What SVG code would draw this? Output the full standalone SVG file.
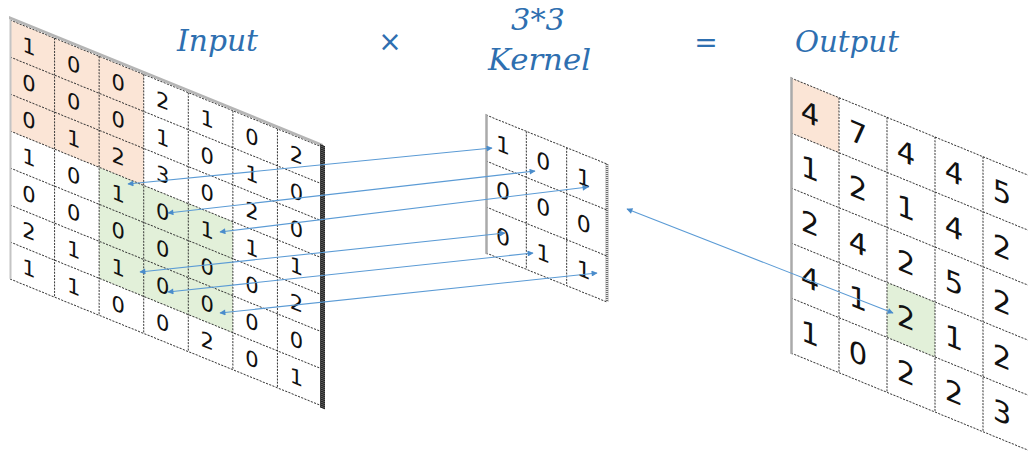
<svg xmlns="http://www.w3.org/2000/svg" width="1028" height="454" viewBox="0 0 1028 454">
<defs>
<marker id="ah" viewBox="0 0 10 10" refX="9" refY="5" markerWidth="8" markerHeight="6" markerUnits="userSpaceOnUse" orient="auto-start-reverse"><path d="M0,0 L10,5 L0,10 z" fill="#4a8ccb"/></marker>
</defs>
<style>
.t{font-family:"DejaVu Serif",serif;font-style:italic;fill:#2e6fb0;font-size:29px}
.op{font-family:"DejaVu Sans",sans-serif;fill:#2e6fb0;font-size:28px;text-anchor:middle}
.g{stroke:#333;stroke-width:1;stroke-dasharray:2 1.2;fill:none}
.d{font-family:"DejaVu Sans",sans-serif;fill:#111;text-anchor:middle}
.di{font-size:21px}
.dk{font-size:22px}
.do{font-size:29px}
.cn{stroke:#5b9bd5;stroke-width:1.1;fill:none;marker-start:url(#ah);marker-end:url(#ah)}
.or{fill:#fbe5d6}
.gr{fill:#e2f0d9}
</style>
<rect width="1028" height="454" fill="#fff"/>
<g id="titles">
<text class="t" x="177" y="51" textLength="81" lengthAdjust="spacingAndGlyphs">Input</text>
<text class="op" x="390" y="51">×</text>
<text class="t" x="538" y="30" text-anchor="middle" textLength="54" lengthAdjust="spacingAndGlyphs">3*3</text>
<text class="t" x="488" y="70" textLength="103" lengthAdjust="spacingAndGlyphs">Kernel</text>
<text class="op" x="706" y="52">=</text>
<text class="t" x="795" y="52" textLength="104" lengthAdjust="spacingAndGlyphs">Output</text>
</g>
<g id="input" transform="matrix(1 0.407 0 1 10 20)">
<rect x="0" y="0" width="312" height="259" fill="#fff"/>
<rect class="or" x="0" y="0" width="133.71" height="111"/>
<rect class="gr" x="89.14" y="111" width="133.71" height="111"/>
<path class="g" d="M0 0H312M0 37H312M0 74H312M0 111H312M0 148H312M0 185H312M0 222H312M0 259H312M44.57 0V259M89.14 0V259M133.71 0V259M178.29 0V259M222.86 0V259M267.43 0V259"/>
<line x1="-1" y1="-2" x2="313" y2="-2" stroke="#b5b5b5" stroke-width="3"/>
<line x1="0.5" y1="-1" x2="0.5" y2="259" stroke="#c4c4c4" stroke-width="2"/>
<rect x="310" y="-2" width="5" height="263" fill="#666"/>
<line x1="312.5" y1="-2" x2="312.5" y2="261" stroke="#1a1a1a" stroke-width="5" stroke-dasharray="1 1"/>
<g class="d di">
<text x="19" y="26">1</text><text x="63.6" y="26">0</text><text x="108.1" y="26">0</text><text x="152.7" y="26">2</text><text x="197.3" y="26">1</text><text x="241.9" y="26">0</text><text x="286.4" y="26">2</text>
<text x="19" y="63">0</text><text x="63.6" y="63">0</text><text x="108.1" y="63">0</text><text x="152.7" y="63">1</text><text x="197.3" y="63">0</text><text x="241.9" y="63">1</text><text x="286.4" y="63">0</text>
<text x="19" y="100">0</text><text x="63.6" y="100">1</text><text x="108.1" y="100">2</text><text x="152.7" y="100">3</text><text x="197.3" y="100">0</text><text x="241.9" y="100">2</text><text x="286.4" y="100">0</text>
<text x="19" y="137">1</text><text x="63.6" y="137">0</text><text x="108.1" y="137">1</text><text x="152.7" y="137">0</text><text x="197.3" y="137">1</text><text x="241.9" y="137">1</text><text x="286.4" y="137">1</text>
<text x="19" y="174">0</text><text x="63.6" y="174">0</text><text x="108.1" y="174">0</text><text x="152.7" y="174">0</text><text x="197.3" y="174">0</text><text x="241.9" y="174">0</text><text x="286.4" y="174">2</text>
<text x="19" y="211">2</text><text x="63.6" y="211">1</text><text x="108.1" y="211">1</text><text x="152.7" y="211">0</text><text x="197.3" y="211">0</text><text x="241.9" y="211">0</text><text x="286.4" y="211">0</text>
<text x="19" y="248">1</text><text x="63.6" y="248">1</text><text x="108.1" y="248">0</text><text x="152.7" y="248">0</text><text x="197.3" y="248">2</text><text x="241.9" y="248">0</text><text x="286.4" y="248">1</text>
</g>
</g>
<g id="kernel" transform="matrix(1 0.405 0 1 486 115)">
<rect x="0" y="0" width="121" height="138" fill="#fff"/>
<path class="g" d="M0 0H121M0 46H121M0 92H121M0 138H121M40.33 0V138M80.67 0V138"/>
<line x1="0.5" y1="-1" x2="0.5" y2="139" stroke="#aaa" stroke-width="2.5"/>
<line x1="121" y1="0" x2="121" y2="138" stroke="#555" stroke-width="3" stroke-dasharray="1 1"/>
<g class="d dk">
<text x="17" y="31">1</text><text x="57.3" y="31">0</text><text x="97.7" y="31">1</text>
<text x="17" y="77">0</text><text x="57.3" y="77">0</text><text x="97.7" y="77">0</text>
<text x="17" y="123">0</text><text x="57.3" y="123">1</text><text x="97.7" y="123">1</text>
</g>
</g>
<g id="output" transform="matrix(1 0.41 0 1 791 78)">
<rect x="0" y="0" width="240" height="275" fill="#fff"/>
<rect class="or" x="0" y="0" width="48" height="55"/>
<rect class="gr" x="96" y="165" width="48" height="55"/>
<path class="g" d="M0 0H240M0 55H240M0 110H240M0 165H240M0 220H240M0 275H240M48 0V275M96 0V275M144 0V275M192 0V275M240 0V275"/>
<line x1="0.5" y1="-1" x2="0.5" y2="276" stroke="#aaa" stroke-width="2.5"/>
<g class="d do">
<text x="19" y="38">4</text><text x="67" y="38">7</text><text x="115" y="38">4</text><text x="163" y="38">4</text><text x="211" y="38">5</text>
<text x="19" y="93">1</text><text x="67" y="93">2</text><text x="115" y="93">1</text><text x="163" y="93">4</text><text x="211" y="93">2</text>
<text x="19" y="148">2</text><text x="67" y="148">4</text><text x="115" y="148">2</text><text x="163" y="148">5</text><text x="211" y="148">2</text>
<text x="19" y="203">4</text><text x="67" y="203">1</text><text x="115" y="203">2</text><text x="163" y="203">1</text><text x="211" y="203">2</text>
<text x="19" y="258">1</text><text x="67" y="258">0</text><text x="115" y="258">2</text><text x="163" y="258">2</text><text x="211" y="258">3</text>
</g>
</g>
<g id="connectors">
<path class="cn" d="M492 148L128 184"/>
<path class="cn" d="M535 171L168 213"/>
<path class="cn" d="M588 187L220 232"/>
<path class="cn" d="M505 233L140 272"/>
<path class="cn" d="M533 253L168 292"/>
<path class="cn" d="M597 273L220 313"/>
<path class="cn" d="M627 209L893 313"/>
</g>
</svg>
